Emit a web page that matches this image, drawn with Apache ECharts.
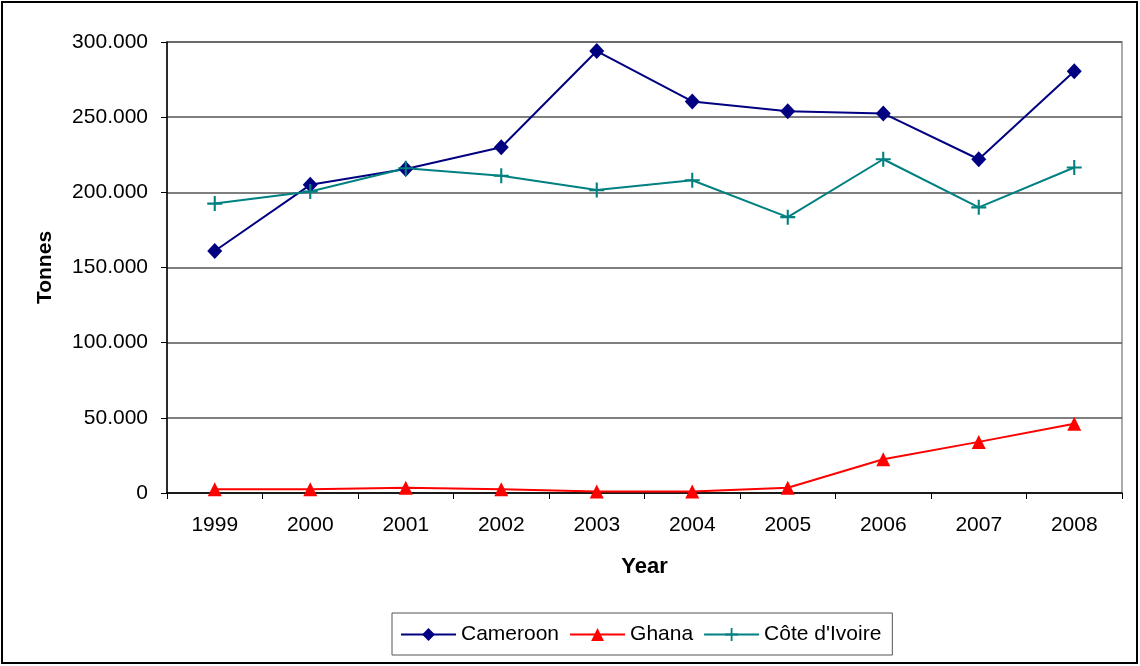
<!DOCTYPE html>
<html>
<head>
<meta charset="utf-8">
<script src="https://cdn.jsdelivr.net/npm/echarts@6/dist/echarts.min.js"></script>
<style>
html,body{margin:0;padding:0;background:#fff;}
#chart{width:1140px;height:666px;}
</style>
</head>
<body>
<div id="chart"></div>
<script>
const years = ['1999','2000','2001','2002','2003','2004','2005','2006','2007','2008'];
const cameroon = [161000, 205000, 215500, 230000, 294000, 260500, 254000, 252500, 222000, 280500];
const ghana = [2500, 2500, 3500, 2500, 1000, 1000, 3500, 22500, 34000, 46000];
const coteIvoire = [192500, 200500, 216000, 211000, 201500, 208000, 183500, 222000, 190000, 216500];
const yTicks = [0, 50000, 100000, 150000, 200000, 250000, 300000];

const font = '"Liberation Sans", Arial, sans-serif';
const plusPath = 'path://M4.3,0 H5.7 V4.3 H10 V5.7 H5.7 V10 H4.3 V5.7 H0 V4.3 H4.3 Z';

function fmt(v) {
  if (v === 0) return '0';
  return String(v).replace(/\B(?=(\d{3})+(?!\d))/g, '.');
}

const chart = echarts.init(document.getElementById('chart'), null, {renderer: 'canvas'});
chart.setOption({
  animation: false,
  backgroundColor: '#fff',
  textStyle: {fontFamily: font},
  graphic: [{
    type: 'rect',
    shape: {x: 2, y: 2, width: 1135, height: 661},
    style: {fill: 'none', stroke: '#000', lineWidth: 2},
    silent: true
  }],
  grid: {
    left: 167, top: 42, width: 955, height: 451,
    show: true, borderColor: '#909090', borderWidth: 1.5, containLabel: false
  },
  legend: {
    left: 392, top: 613,
    width: 540,
    itemWidth: 55, itemHeight: 16, itemGap: 10,
    padding: [11, 11, 10, 8],
    borderColor: '#555', borderWidth: 1,
    textStyle: {fontSize: 21, color: '#000', fontFamily: font},
    data: ['Cameroon', 'Ghana', "Côte d'Ivoire"]
  },
  xAxis: {
    type: 'category',
    data: years,
    boundaryGap: true,
    name: 'Year',
    nameLocation: 'middle',
    nameGap: 63,
    nameTextStyle: {fontSize: 22, fontWeight: 'bold', color: '#000', fontFamily: font},
    axisLine: {lineStyle: {color: '#000', width: 1.5}},
    axisTick: {show: true, length: 6, lineStyle: {color: '#000'}},
    axisLabel: {fontSize: 21, color: '#000', margin: 22, fontFamily: font},
    splitLine: {show: false}
  },
  yAxis: {
    type: 'value',
    min: 0, max: 300000, interval: 50000,
    name: 'Tonnes',
    nameLocation: 'middle',
    nameGap: 111,
    nameRotate: 90,
    nameTextStyle: {fontSize: 21, fontWeight: 'bold', color: '#000', fontFamily: font},
    axisLine: {show: true, lineStyle: {color: '#000', width: 1.5}},
    axisTick: {show: true, length: 6, lineStyle: {color: '#000'}},
    axisLabel: {fontSize: 21, color: '#000', margin: 19, fontFamily: font,
      formatter: function (v) { return yTicks.indexOf(v) >= 0 ? fmt(v) : ''; }},
    splitLine: {show: true, lineStyle: {color: '#555', width: 1.5}}
  },
  series: [
    {
      name: 'Cameroon', type: 'line', data: cameroon,
      symbol: 'diamond', symbolSize: [15, 16],
      lineStyle: {color: '#000080', width: 2},
      itemStyle: {color: '#000080'}
    },
    {
      name: 'Ghana', type: 'line', data: ghana,
      symbol: 'triangle', symbolSize: 14,
      lineStyle: {color: '#FF0000', width: 2},
      itemStyle: {color: '#FF0000'}
    },
    {
      name: "Côte d'Ivoire", type: 'line', data: coteIvoire,
      symbol: plusPath, symbolSize: 15,
      lineStyle: {color: '#008080', width: 2},
      itemStyle: {color: '#008080'}
    }
  ]
});
</script>
</body>
</html>
